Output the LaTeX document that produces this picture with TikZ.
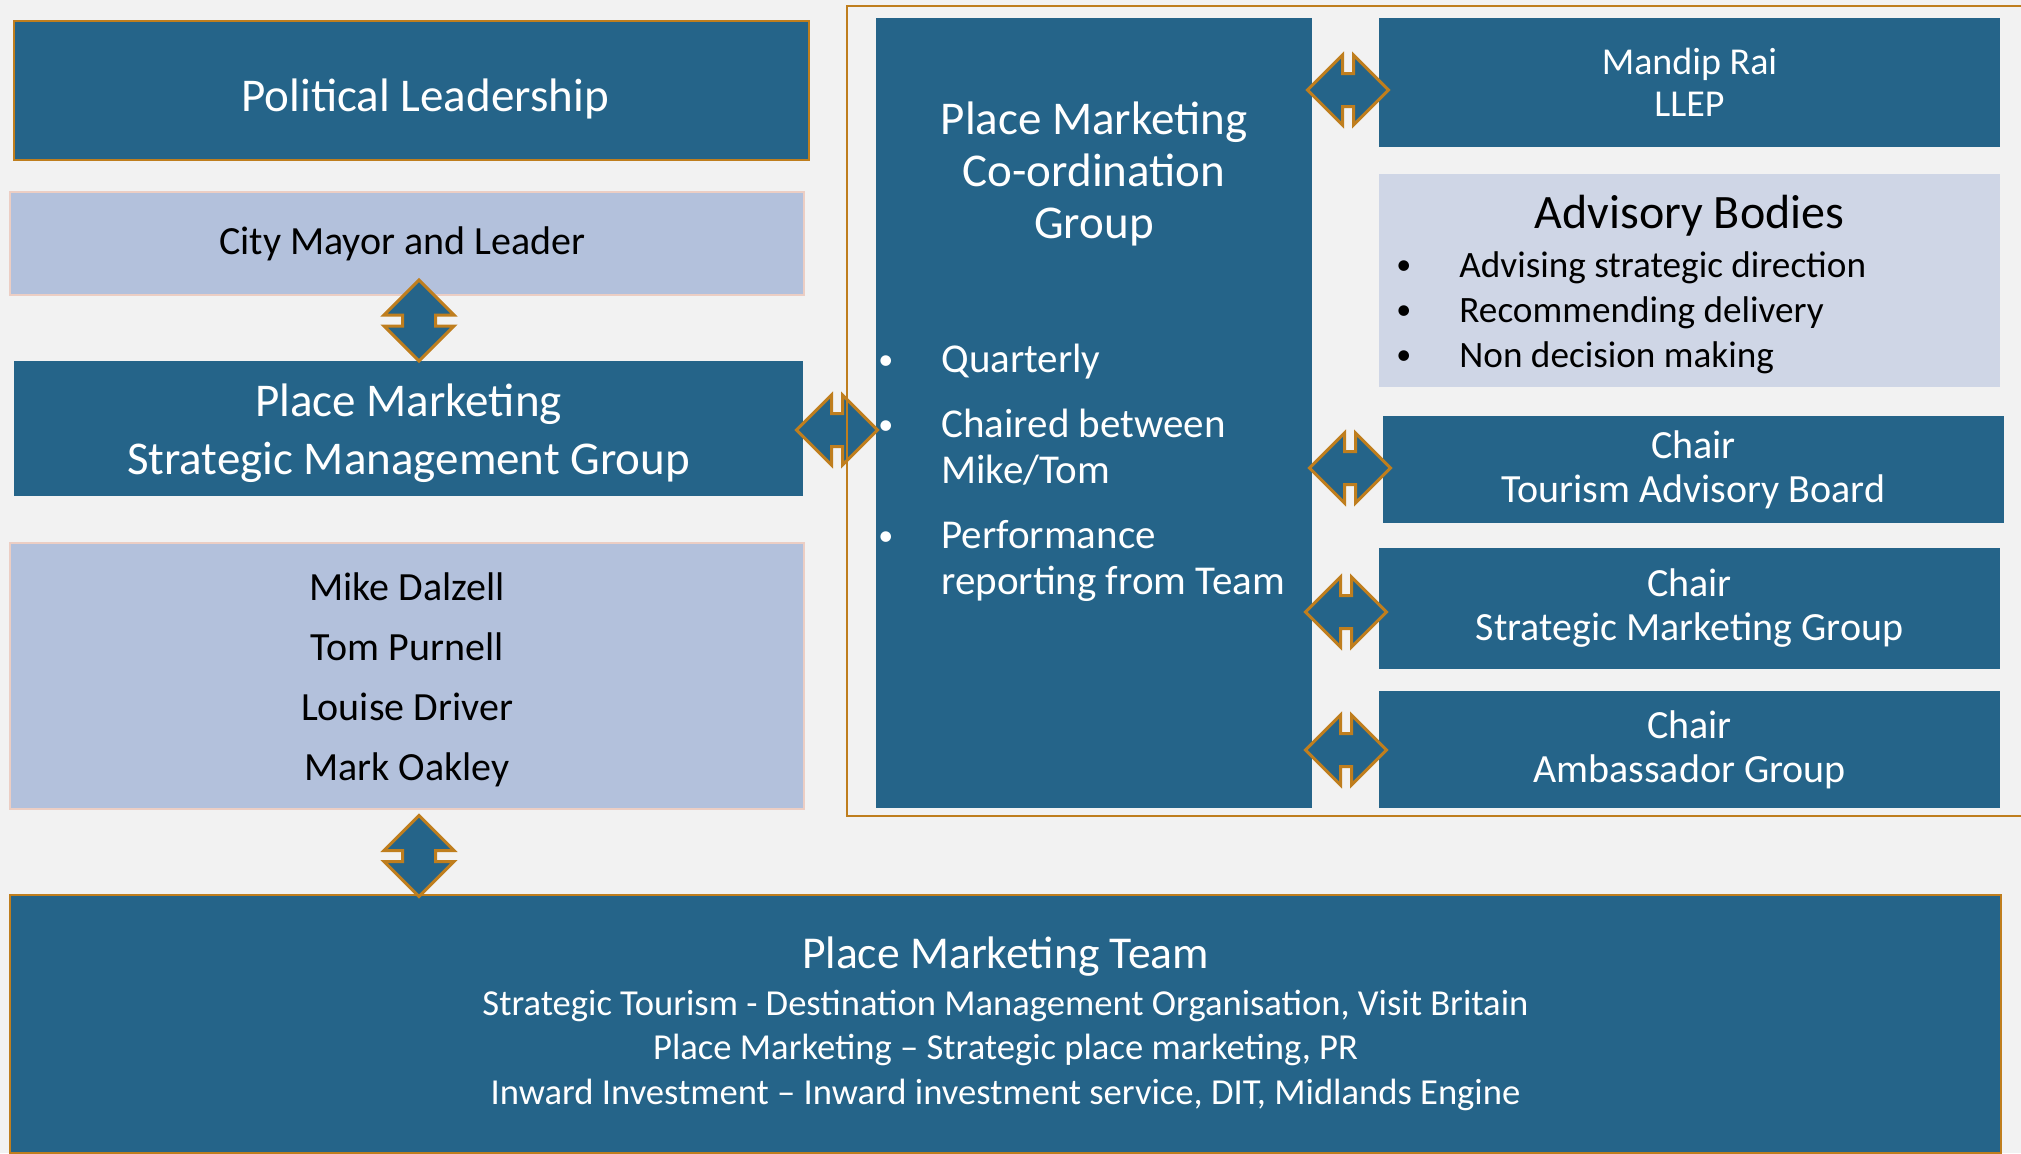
\documentclass[tikz,border=0pt]{standalone}
\usepackage{fontspec}
\setmainfont{Carlito}
\usetikzlibrary{
  positioning,
  calc,
  shapes.arrows}

\definecolor{boxcolor}{RGB}{37,100,137}
\definecolor{lightcolor}{RGB}{179,193,220}
\definecolor{palecolor}{RGB}{207,214,230}
\definecolor{edgecolor}{RGB}{191,126,30}
\definecolor{pinkcolor}{RGB}{236,206,196}
\definecolor{backcolor}{RGB}{242,242,242}

%% font sizes
\newcommand\titlefont{\fontsize{23.5}{29}\selectfont}
\newcommand\bodyfont{\fontsize{20}{30}\selectfont}
\newcommand\chairfont{\fontsize{20}{22}\selectfont}
\newcommand\teamfont{\fontsize{18.3}{22.25}\selectfont}

%% small bullet, pulled a little to the left
\newcommand\bul{\hspace*{-4.5pt}%
  {\fontsize{15}{15}\selectfont\raisebox{1.5pt}{\textbullet}}}

\tikzset{
  %% darkbox : dark blue box with white text
  darkbox/.style={
    rectangle,
    fill=boxcolor,
    text=white,
    inner sep=0pt,
    align=center
  },
  %% lightbox : light blue box with black text
  lightbox/.style={
    rectangle,
    fill=lightcolor,
    draw=pinkcolor,
    line width=0.75pt,
    inner sep=0pt,
    align=center
  },
  %% chairbox : boxes on the right
  chairbox/.style={
    darkbox,
    font=\chairfont,
    minimum width=310.5pt
  },
  %% updown : block arrow, both ways
  updown/.style={
    double arrow,
    shape border rotate=90,
    fill=boxcolor,
    draw=edgecolor,
    line width=1.5pt,
    inner sep=7.5pt,
    double arrow head extend=9.25pt,
    minimum height=40.5pt,
    minimum width=33.5pt
  },
  leftright/.style={
    updown,
    shape border rotate=0
  },
  %% frame : frame around the right hand groups
  frame/.style={edgecolor, line width=1.25pt}
}

\begin{document}
\begin{tikzpicture}
  [x=0.5pt,
  y=-0.5pt]

  \useasboundingbox [fill=backcolor] (0,0) rectangle (2021,1153);

  %% Left column
  \node (polit) [darkbox, draw=edgecolor, line width=1.2pt, font=\titlefont,
    text height=21.4pt, text depth=0pt,
    minimum width=397.5pt, minimum height=69.5pt] at (411.5,90.5) {%
    \hspace*{19pt}Political Leadership
  };

  \node (mayor) [lightbox, font=\bodyfont,
    minimum width=397pt, minimum height=51.5pt] at (407,243.5) {%
    City Mayor and Leader
  };

  \node (smg) [darkbox, font=\titlefont,
    minimum width=394.5pt, minimum height=67.5pt] at (408.5,428.5) {%
    \rule{0pt}{21pt}Place Marketing\\
    Strategic Management Group
  };

  \node (names) [lightbox, font=\bodyfont,
    minimum width=397pt, minimum height=133pt] at (407,676) {%
    \rule{0pt}{18pt}Mike Dalzell\\
    Tom Purnell\\
    Louise Driver\\
    Mark Oakley
  };

  %% Team along the bottom
  \node (team) [darkbox, draw=edgecolor, line width=1.2pt, font=\teamfont,
    minimum width=995.5pt, minimum height=129pt] at (1005.5,1024) {%
    {\fontsize{22.8}{26}\selectfont Place Marketing Team}\\[1pt]
    Strategic Tourism - Destination Management Organisation, Visit Britain\\
    Place Marketing -- Strategic place marketing, PR\\
    Inward Investment -- Inward investment service, DIT, Midlands Engine
  };

  %% Co-ordination group
  \node (coord) [darkbox, minimum width=218pt, minimum height=395pt]
    at (1094,413) {};

  \node (coordtitle) [below=42pt of coord.north, text=white, align=center,
    inner sep=0pt, font=\fontsize{23.5}{26}\selectfont] {%
    Place Marketing\\
    Co-ordination\\
    Group
  };

  \node (coordlist) [anchor=north west, text=white, inner sep=0pt,
    font=\fontsize{20.5}{23}\selectfont] at (887,340) {%
    \begin{tabular}{@{}p{27pt}@{}l@{}}
      \bul & Quarterly\\[9.5pt]
      \bul & Chaired between\\
           & Mike/Tom\\[9.5pt]
      \bul & Performance\\
           & reporting from Team
    \end{tabular}
  };

  %% Boxes on the right
  \node (mandip) [chairbox, font=\fontsize{19}{21}\selectfont,
    minimum height=64.5pt] at (1689.5,82.5) {%
    Mandip Rai\\
    LLEP
  };

  \node (advisory) [rectangle, fill=palecolor, minimum width=310.5pt,
    minimum height=106.5pt] at (1689.5,280.5) {};

  \node (advisorytitle) [inner sep=0pt, font=\fontsize{24}{28}\selectfont]
    at ($(advisory.north)+(0,42)$) {%
    Advisory Bodies
  };

  \node (advisorylist) [anchor=north west, inner sep=0pt,
    font=\fontsize{18.6}{22.5}\selectfont] at (1405,245.5) {%
    \begin{tabular}{@{}p{27pt}@{}l@{}}
      \bul & Advising strategic direction\\
      \bul & Recommending delivery\\
      \bul & Non decision making
    \end{tabular}
  };

  \node (tourism) [chairbox, minimum height=53.5pt] at (1693.5,469.5) {%
    Chair\\
    Tourism Advisory Board
  };

  \node (smgchair) [chairbox, minimum height=60.5pt] at (1689.5,608.5) {%
    Chair\\
    Strategic Marketing Group
  };

  \node (ambassador) [chairbox, minimum height=58.5pt] at (1689.5,749.5) {%
    Chair\\
    Ambassador Group
  };

  %% Block arrows
  \node (mayorarrow) [updown] at (419,320.5) {};
  \node (teamarrow) [updown] at (419,856) {};
  \node (smgarrow) [leftright] at (837,430) {};
  \node (mandiparrow) [leftright] at (1348,90) {};
  \node (tourismarrow) [leftright] at (1350,468) {};
  \node (chairarrow) [leftright] at (1346,612) {};
  \node (ambassadorarrow) [leftright] at (1346,750) {};

  %% Frame around the co-ordination group
  \draw [frame] (2021,6) -| (847,816) -- (2021,816);

\end{tikzpicture}
\end{document}
